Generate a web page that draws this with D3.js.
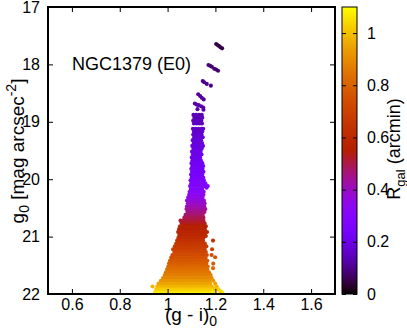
<!DOCTYPE html>
<html><head><meta charset="utf-8">
<script src="https://cdn.jsdelivr.net/npm/d3@7"></script>
<style>body{margin:0;background:#fff}</style>
</head><body>
<svg id="c" width="407" height="329"></svg>
<script>
const xTicks=[0.6,0.8,1.0,1.2,1.4,1.6];
const xTickLabels=["0.6","0.8","1","1.2","1.4","1.6"];
const yTicks=[17,18,19,20,21,22];
const cbTicks=[0,0.2,0.4,0.6,0.8,1];
const cbTickLabels=["0","0.2","0.4","0.6","0.8","1"];
const titleText="NGC1379 (E0)";

// isolated bright / edge points: [g-i, g0, R]
const brightPts=[
[1.203,17.645,.05],[1.209,17.662,.05],[1.215,17.68,.05],[1.221,17.70,.05],[1.228,17.72,.05],
[1.171,18.01,.08],[1.178,18.025,.08],[1.185,18.04,.08],[1.195,18.075,.08],[1.203,18.09,.08],[1.211,18.11,.08],
[1.147,18.29,.10],[1.153,18.31,.10],[1.164,18.34,.10],[1.181,18.37,.10],
[1.128,18.52,.12],[1.136,18.55,.12],[1.143,18.58,.12],[1.151,18.61,.12],
[1.114,18.68,.13],[1.121,18.70,.13],[1.130,18.71,.13],[1.140,18.73,.13],[1.149,18.75,.13],
[1.125,18.78,.13],[1.150,18.79,.13],
[1.057,20.74,.52],[1.019,21.36,.74],[1.199,21.36,.76],[1.190,21.55,.82],[1.003,21.64,.86],
[1.199,21.90,1.0],[1.220,21.95,1.04],[1.163,20.15,.29],[1.094,20.70,.50],[1.160,20.99,.60]
];

// dense sequence, one row of points per g0 level
const rowG0=[18.88,18.93,18.98,19.03,19.12,19.17,19.22,19.27,19.32,19.37,19.42,19.47,19.52,19.57,19.62,19.67,19.72,19.77,19.82,19.87,19.92,19.97,
20.02,20.07,20.12,20.17,20.22,20.27,20.32,20.37,20.42,20.47,20.52,20.57,20.62,20.67,20.72,20.77,20.82,20.87,20.92,20.97,
21.02,21.07,21.12,21.17,21.22,21.27,21.32,21.37,21.42,21.47,21.52,21.57,21.62,21.67,21.72,21.77,21.82,21.87,21.92,21.97,22.01];
const rowR=[.14,.14,.15,.15,.16,.16,.17,.17,.18,.18,.19,.19,.20,.20,.21,.21,.22,.22,.23,.23,.24,.25,
.26,.27,.28,.29,.31,.33,.35,.37,.39,.41,.43,.45,.47,.49,.51,.53,.55,.56,.58,.59,
.61,.63,.65,.67,.69,.71,.73,.75,.77,.79,.81,.83,.85,.87,.89,.92,.95,.98,1.02,1.06,1.09];
const rowGi=[
[1.108,1.119,1.131,1.143],
[1.112,1.124,1.136,1.145],
[1.107,1.118,1.129,1.141],
[1.110,1.122,1.134,1.144],
[1.106,1.117,1.129,1.141,1.149],
[1.110,1.121,1.133,1.145],
[1.107,1.119,1.130,1.142],
[1.111,1.123,1.135,1.147],
[1.105,1.116,1.128,1.140],
[1.109,1.121,1.132,1.144],
[1.103,1.115,1.127,1.139,1.148],
[1.108,1.120,1.131,1.143],
[1.102,1.114,1.126,1.138],
[1.106,1.118,1.130,1.142],
[1.101,1.112,1.124,1.136],
[1.104,1.116,1.128,1.139],
[1.100,1.111,1.123,1.135,1.145],
[1.103,1.115,1.127,1.139,1.149],
[1.099,1.110,1.122,1.134,1.146],
[1.102,1.114,1.126,1.138,1.150],
[1.098,1.110,1.121,1.133,1.145],
[1.101,1.113,1.125,1.137,1.149],
[1.096,1.108,1.120,1.132,1.144,1.152],
[1.099,1.111,1.123,1.135,1.147,1.158],
[1.094,1.106,1.118,1.130,1.142,1.154,1.168],
[1.097,1.109,1.121,1.133,1.145],
[1.092,1.104,1.116,1.128,1.140,1.151],
[1.090,1.102,1.114,1.126,1.138,1.150],
[1.086,1.098,1.110,1.122,1.134,1.146],
[1.081,1.093,1.105,1.117,1.129,1.141,1.152],
[1.085,1.097,1.109,1.121,1.133,1.145,1.155],
[1.081,1.093,1.105,1.117,1.129,1.141,1.153],
[1.079,1.091,1.103,1.115,1.127,1.139,1.151,1.158],
[1.083,1.095,1.107,1.119,1.131,1.143,1.154],
[1.075,1.087,1.099,1.111,1.123,1.135,1.147],
[1.070,1.082,1.094,1.106,1.118,1.130,1.142,1.150],
[1.054,1.066,1.078,1.090,1.102,1.114,1.126,1.138,1.150],
[1.060,1.072,1.084,1.096,1.108,1.120,1.132,1.144,1.155],
[1.052,1.064,1.076,1.088,1.100,1.112,1.124,1.136,1.148,1.160],
[1.048,1.060,1.072,1.084,1.096,1.108,1.120,1.132,1.144,1.156],
[1.044,1.056,1.068,1.080,1.092,1.104,1.116,1.128,1.140,1.152,1.165],
[1.049,1.061,1.073,1.085,1.097,1.109,1.121,1.133,1.145,1.156],
[1.045,1.057,1.069,1.081,1.093,1.105,1.117,1.129,1.141,1.150],
[1.040,1.052,1.064,1.076,1.088,1.100,1.112,1.124,1.136,1.148,1.190],
[1.036,1.048,1.060,1.072,1.084,1.096,1.108,1.120,1.132,1.144,1.156],
[1.030,1.042,1.054,1.066,1.078,1.090,1.102,1.114,1.126,1.138,1.150,1.162],
[1.023,1.035,1.047,1.059,1.071,1.083,1.095,1.107,1.119,1.131,1.143,1.155,1.186],
[1.028,1.040,1.052,1.064,1.076,1.088,1.100,1.112,1.124,1.136,1.148,1.160],
[1.020,1.032,1.044,1.056,1.068,1.080,1.092,1.104,1.116,1.128,1.140,1.152,1.164,1.184],
[1.015,1.027,1.039,1.051,1.063,1.075,1.087,1.099,1.111,1.123,1.135,1.147,1.159],
[1.010,1.022,1.034,1.046,1.058,1.070,1.082,1.094,1.106,1.118,1.130,1.142,1.154,1.166],
[1.006,1.018,1.030,1.042,1.054,1.066,1.078,1.090,1.102,1.114,1.126,1.138,1.150,1.162,1.191],
[1.003,1.015,1.027,1.039,1.051,1.063,1.075,1.087,1.099,1.111,1.123,1.135,1.147,1.159,1.168],
[0.998,1.010,1.022,1.034,1.046,1.058,1.070,1.082,1.094,1.106,1.118,1.130,1.142,1.154,1.166],
[0.993,1.005,1.017,1.029,1.041,1.053,1.065,1.077,1.089,1.101,1.113,1.125,1.137,1.149,1.161,1.173],
[0.988,1.000,1.012,1.024,1.036,1.048,1.060,1.072,1.084,1.096,1.108,1.120,1.132,1.144,1.156,1.168,1.180],
[0.981,0.993,1.005,1.017,1.029,1.041,1.053,1.065,1.077,1.089,1.101,1.113,1.125,1.137,1.149,1.161,1.173,1.184],
[0.972,0.984,0.996,1.008,1.020,1.032,1.044,1.056,1.068,1.080,1.092,1.104,1.116,1.128,1.140,1.152,1.164,1.176,1.191],
[0.962,0.974,0.986,0.998,1.010,1.022,1.034,1.046,1.058,1.070,1.082,1.094,1.106,1.118,1.130,1.142,1.154,1.166,1.178,1.199],
[0.937,0.957,0.969,0.981,0.993,1.005,1.017,1.029,1.041,1.053,1.065,1.077,1.089,1.101,1.113,1.125,1.137,1.149,1.161,1.173,1.185,1.205],
[0.952,0.964,0.976,0.988,1.000,1.012,1.024,1.036,1.048,1.060,1.072,1.084,1.096,1.108,1.120,1.132,1.144,1.156,1.168,1.180,1.195,1.213],
[0.948,0.960,0.972,0.984,0.996,1.008,1.020,1.032,1.044,1.056,1.068,1.080,1.092,1.104,1.116,1.128,1.140,1.152,1.164,1.176,1.190,1.228],
[0.955,0.967,0.979,0.991,1.003,1.015,1.027,1.039,1.051,1.063,1.075,1.087,1.099,1.111,1.123,1.135,1.147,1.159,1.171,1.185,1.205]
];

const FONT="'Liberation Sans', Arial, Helvetica, sans-serif";
const svg=d3.select("#c").attr("font-family",FONT);
const M={l:48,r:335,t:7,b:294};
const x=d3.scaleLinear([0.5,1.7],[M.l,M.r]);
const y=d3.scaleLinear([17,22],[M.t,M.b]);
const cmax=1.1;
// gnuplot default palette (rgbformulae 7,5,15)
function gp(t){t=Math.max(0,Math.min(1,t));const r=Math.sqrt(t),g=t*t*t,b=Math.max(0,Math.sin(2*Math.PI*t));return d3.rgb(r*255,g*255,b*255).formatHex();}
const color=d3.scaleSequential([0,cmax],gp);

const pts=[];
rowG0.forEach((g0,i)=>rowGi[i].forEach(gi=>pts.push({gi,g0,R:rowR[i]})));
brightPts.forEach(d=>pts.push({gi:d[0],g0:d[1],R:d[2]}));

svg.append("clipPath").attr("id","clip").append("rect").attr("x",M.l).attr("y",M.t).attr("width",M.r-M.l).attr("height",M.b-M.t);
svg.append("g").attr("clip-path","url(#clip)").selectAll("circle").data(pts).join("circle")
  .attr("cx",d=>x(d.gi)).attr("cy",d=>y(d.g0)).attr("r",2.05).attr("fill",d=>color(d.R));

function style(g){g.attr("font-family",FONT).attr("font-size",16);g.select(".domain").remove();g.selectAll("line").attr("stroke","#000");g.selectAll("text").attr("fill","#000");}
svg.append("g").attr("transform",`translate(0,${M.b})`).call(d3.axisBottom(x).tickValues(xTicks).tickFormat((d,i)=>xTickLabels[i]).tickSize(-5).tickPadding(5)).call(style);
svg.append("g").attr("transform",`translate(0,${M.t})`).call(d3.axisTop(x).tickValues(xTicks).tickFormat("").tickSize(-5)).call(style);
svg.append("g").attr("transform",`translate(${M.l},0)`).call(d3.axisLeft(y).tickValues(yTicks).tickFormat(d3.format("d")).tickSize(-5).tickPadding(8)).call(style);
svg.append("g").attr("transform",`translate(${M.r},0)`).call(d3.axisRight(y).tickValues(yTicks).tickFormat("").tickSize(-5)).call(style);
svg.append("rect").attr("x",M.l).attr("y",M.t).attr("width",M.r-M.l).attr("height",M.b-M.t).attr("fill","none").attr("stroke","#000").attr("stroke-width",2);

// colour bar
const CB={x:342,w:15};
const cb=d3.scaleLinear([0,cmax],[M.b,M.t]);
const grad=svg.append("defs").append("linearGradient").attr("id","cbg").attr("x1",0).attr("y1",1).attr("x2",0).attr("y2",0);
d3.range(0,1.0001,0.02).forEach(o=>grad.append("stop").attr("offset",o).attr("stop-color",gp(o)));
svg.append("rect").attr("x",CB.x).attr("y",M.t).attr("width",CB.w).attr("height",M.b-M.t).attr("fill","url(#cbg)").attr("stroke","#000").attr("stroke-width",1);
svg.append("g").attr("transform",`translate(${CB.x},0)`).call(d3.axisLeft(cb).tickValues(cbTicks).tickFormat("").tickSize(-4)).call(style);
svg.append("g").attr("transform",`translate(${CB.x+CB.w},0)`).call(d3.axisRight(cb).tickValues(cbTicks).tickFormat((d,i)=>cbTickLabels[i]).tickSize(-4).tickPadding(10)).call(style);

// texts
svg.append("text").attr("x",72).attr("y",69.5).attr("font-size",18).text(titleText);
const xl=svg.append("text").attr("x",191).attr("y",321).attr("text-anchor","middle").attr("font-size",19);
xl.append("tspan").text("(g - i)");
xl.append("tspan").attr("dy",5).attr("font-size",14).text("0");
const yl=svg.append("text").attr("transform","translate(24,151) rotate(-90)").attr("text-anchor","middle").attr("font-size",19);
yl.append("tspan").text("g");
yl.append("tspan").attr("dy",5).attr("font-size",14).text("0");
yl.append("tspan").attr("dy",-5).text(" [mag arcsec");
yl.append("tspan").attr("dy",-8).attr("font-size",14).text("-2");
yl.append("tspan").attr("dy",8).text("]");
const cl=svg.append("text").attr("transform","translate(400,149) rotate(-90)").attr("text-anchor","middle").attr("font-size",18);
cl.append("tspan").text("R");
cl.append("tspan").attr("dy",5).attr("font-size",13).text("gal");
cl.append("tspan").attr("dy",-5).text(" (arcmin)");
</script>
</body></html>
